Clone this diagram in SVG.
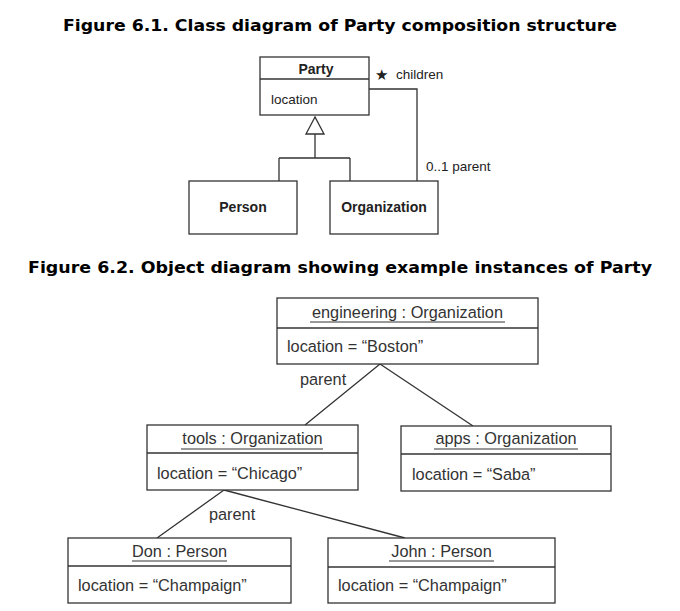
<svg xmlns="http://www.w3.org/2000/svg" width="680" height="611" viewBox="0 0 680 611">
<style>
.title{font-family:"DejaVu Sans",Verdana,sans-serif;font-weight:bold;font-size:15.5px;fill:#000}
.box{fill:#fff;stroke:#333;stroke-width:1.3}
.ln{fill:none;stroke:#333;stroke-width:1.3}
.c{font-family:"Liberation Sans",Arial,sans-serif;font-size:13.5px;fill:#222}
.cb{font-family:"Liberation Sans",Arial,sans-serif;font-size:14px;font-weight:bold;fill:#222}
.o{font-family:"Liberation Sans",Arial,sans-serif;font-size:16.3px;fill:#333}
.u{stroke:#333;stroke-width:1}
</style>
<rect width="680" height="611" fill="#fff"/>
<text class="title" x="63" y="31" textLength="554" lengthAdjust="spacingAndGlyphs">Figure 6.1. Class diagram of Party composition structure</text>
<text class="title" x="28" y="273" textLength="624" lengthAdjust="spacingAndGlyphs">Figure 6.2. Object diagram showing example instances of Party</text>

<g id="connectors">
  <path class="ln" d="M315,134 V158 M279,158 H350 M279,158 V181 M350,158 V181"/>
  <polygon points="315,117 306,134 324,134" fill="#fff" stroke="#333" stroke-width="1.3"/>
  <path class="ln" d="M369,89 H417 V181"/>
  <text class="c" x="375" y="80" style="font-size:15px">★</text>
  <text class="c" x="396" y="79">children</text>
  <text class="c" x="426" y="171">0..1 parent</text>
  <path class="ln" d="M380,364 L305,425 M380,364 L473,426"/>
  <text class="o" x="300" y="385">parent</text>
  <path class="ln" d="M224,490 L157,538 M224,490 L405,538"/>
  <text class="o" x="209" y="520">parent</text>
</g>

<g id="party">
  <rect class="box" x="260" y="57" width="109" height="58"/>
  <line class="ln" x1="260" y1="79" x2="369" y2="79"/>
  <text class="cb" x="316" y="74" text-anchor="middle">Party</text>
  <text class="c" x="271" y="104">location</text>
</g>
<g id="person">
  <rect class="box" x="189" y="181" width="108" height="53"/>
  <text class="cb" x="243" y="212" text-anchor="middle">Person</text>
</g>
<g id="organization">
  <rect class="box" x="330" y="181" width="108" height="53"/>
  <text class="cb" x="384" y="212" text-anchor="middle">Organization</text>
</g>

<g id="engineering">
  <rect class="box" x="277" y="298" width="261" height="66"/>
  <line class="ln" x1="277" y1="328" x2="538" y2="328"/>
  <text class="o" x="407.5" y="318" text-anchor="middle">engineering : Organization</text>
  <line class="u" x1="310" y1="322" x2="505" y2="322"/>
  <text class="o" x="287" y="352">location = “Boston”</text>
</g>
<g id="tools">
  <rect class="box" x="147" y="425" width="211" height="65"/>
  <line class="ln" x1="147" y1="453" x2="358" y2="453"/>
  <text class="o" x="252.5" y="444" text-anchor="middle">tools : Organization</text>
  <line class="u" x1="181" y1="449" x2="323" y2="449"/>
  <text class="o" x="157" y="479">location = “Chicago”</text>
</g>
<g id="apps">
  <rect class="box" x="401" y="426" width="210" height="65"/>
  <line class="ln" x1="401" y1="454" x2="611" y2="454"/>
  <text class="o" x="506" y="444" text-anchor="middle">apps : Organization</text>
  <line class="u" x1="434" y1="449" x2="578" y2="449"/>
  <text class="o" x="412" y="480">location = “Saba”</text>
</g>
<g id="don">
  <rect class="box" x="68" y="538" width="223" height="65"/>
  <line class="ln" x1="68" y1="566" x2="291" y2="566"/>
  <text class="o" x="179.5" y="557" text-anchor="middle">Don : Person</text>
  <line class="u" x1="132" y1="561" x2="227" y2="561"/>
  <text class="o" x="78" y="591">location = “Champaign”</text>
</g>
<g id="john">
  <rect class="box" x="328" y="538" width="227" height="65"/>
  <line class="ln" x1="328" y1="567" x2="555" y2="567"/>
  <text class="o" x="441.5" y="557" text-anchor="middle">John : Person</text>
  <line class="u" x1="389" y1="561" x2="494" y2="561"/>
  <text class="o" x="338" y="591">location = “Champaign”</text>
</g>
</svg>
